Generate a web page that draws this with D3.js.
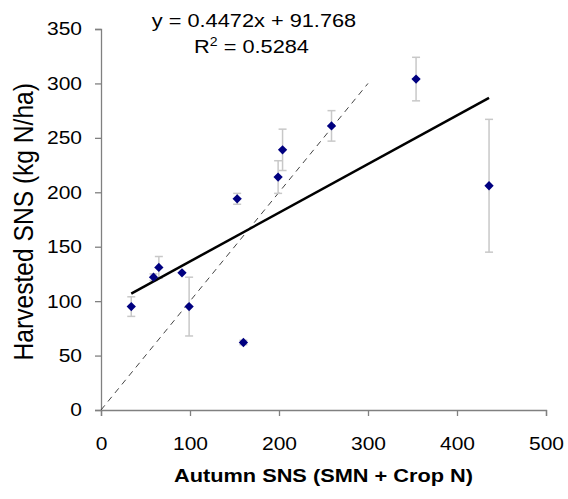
<!DOCTYPE html>
<html>
<head>
<meta charset="utf-8">
<script src="https://cdn.jsdelivr.net/npm/d3@7"></script>
<style>
  body { margin: 0; background: #fff; }
  svg { display: block; font-family: "Liberation Sans", Arial, sans-serif; }
</style>
</head>
<body>
<div id="chart"></div>
<script>
// autumn SNS vs harvested SNS, one entry per site
const xVals = [34, 59, 65, 91, 99, 160, 153, 199, 204, 259, 354, 436];
const yVals = [95, 122, 131, 126, 95, 62, 194, 214, 239, 261, 304, 206];
const errVals = [9, 3, 10, 0, 27, 2, 5, 15, 19, 14, 20, 61];

const xTicks = [0, 100, 200, 300, 400, 500];
const yTicks = [0, 50, 100, 150, 200, 250, 300, 350];

const slope = 0.4472, intercept = 91.768;
const eqLabel = "y = 0.4472x + 91.768";
const r2Value = "0.5284";

const W = 568, H = 499;
const fs = 18.6;      // text size
const stretch = 1.17; // the original chart text is a bit wider than tall

let svg = d3.select("#chart").append("svg")
    .attr("width", W)
    .attr("height", H);

let x = d3.scaleLinear().domain([0, 500]).range([101, 546]);
let y = d3.scaleLinear().domain([0, 350]).range([410, 29]);

// axes
let xAxis = svg.append("g")
    .attr("transform", "translate(0," + y(0) + ")")
    .call(d3.axisBottom(x).tickValues(xTicks).tickSize(6).tickPadding(20.5));
let yAxis = svg.append("g")
    .attr("transform", "translate(" + x(0) + ",0)")
    .call(d3.axisLeft(y).tickValues(yTicks).tickSize(6));

[xAxis, yAxis].forEach(function(a) {
    a.select(".domain").attr("stroke", "#808080").attr("stroke-width", 1.3);
    a.selectAll(".tick line").attr("stroke", "#808080").attr("stroke-width", 1.3);
    a.selectAll(".tick text")
        .attr("font-size", fs)
        .attr("font-family", "Liberation Sans, Arial, sans-serif")
        .attr("fill", "#000")
        .attr("transform", "scale(1.13,1)");
});
yAxis.selectAll(".tick text").attr("x", -19 / 1.13);

// 1:1 line
svg.append("line")
    .attr("x1", x(0)).attr("y1", y(0))
    .attr("x2", x(300)).attr("y2", y(300))
    .attr("stroke", "#444")
    .attr("stroke-width", 1)
    .attr("stroke-dasharray", "6,5");

// error bars
let pts = xVals.map(function(d, i) { return {x: d, y: yVals[i], e: errVals[i]}; });
let eb = svg.append("g").attr("stroke", "#c8c8c8").attr("stroke-width", 1.5);
pts.filter(function(d) { return d.e > 0; }).forEach(function(d) {
    eb.append("line")
        .attr("x1", x(d.x)).attr("x2", x(d.x))
        .attr("y1", y(d.y - d.e)).attr("y2", y(d.y + d.e));
    [d.y - d.e, d.y + d.e].forEach(function(v) {
        eb.append("line")
            .attr("x1", x(d.x) - 4).attr("x2", x(d.x) + 4)
            .attr("y1", y(v)).attr("y2", y(v));
    });
});

// trend line over the data range
let xMin = d3.min(xVals), xMax = d3.max(xVals);
svg.append("line")
    .attr("x1", x(xMin)).attr("y1", y(slope * xMin + intercept))
    .attr("x2", x(xMax)).attr("y2", y(slope * xMax + intercept))
    .attr("stroke", "#000")
    .attr("stroke-width", 2.5);

// diamond markers
svg.selectAll(".pt")
    .data(pts)
    .enter()
    .append("path")
    .attr("class", "pt")
    .attr("d", d3.symbol().type(d3.symbolDiamond2).size(55))
    .attr("transform", function(d) { return "translate(" + x(d.x) + "," + y(d.y) + ")"; })
    .attr("fill", "#000080");

// equation text
svg.append("g")
    .attr("transform", "translate(254,26.7) scale(" + stretch + ",1)")
    .append("text")
    .attr("text-anchor", "middle")
    .attr("font-size", fs)
    .text(eqLabel);
let r2 = svg.append("g")
    .attr("transform", "translate(251.5,53.3) scale(" + stretch + ",1)")
    .append("text")
    .attr("text-anchor", "middle")
    .attr("font-size", fs);
r2.append("tspan").text("R");
r2.append("tspan").attr("dy", -7.5).attr("font-size", 12).text("2");
r2.append("tspan").attr("dy", 7.5).text(" = " + r2Value);

// axis titles
svg.append("g")
    .attr("transform", "translate(" + x(250) + ",482) scale(" + stretch + ",1)")
    .append("text")
    .attr("text-anchor", "middle")
    .attr("font-size", fs)
    .attr("font-weight", "bold")
    .text("Autumn SNS (SMN + Crop N)");
svg.append("text")
    .attr("transform", "translate(33,221.7) scale(1.1,1) rotate(-90)")
    .attr("text-anchor", "middle")
    .attr("font-size", 24.6)
    .text("Harvested SNS (kg N/ha)");
</script>
</body>
</html>
